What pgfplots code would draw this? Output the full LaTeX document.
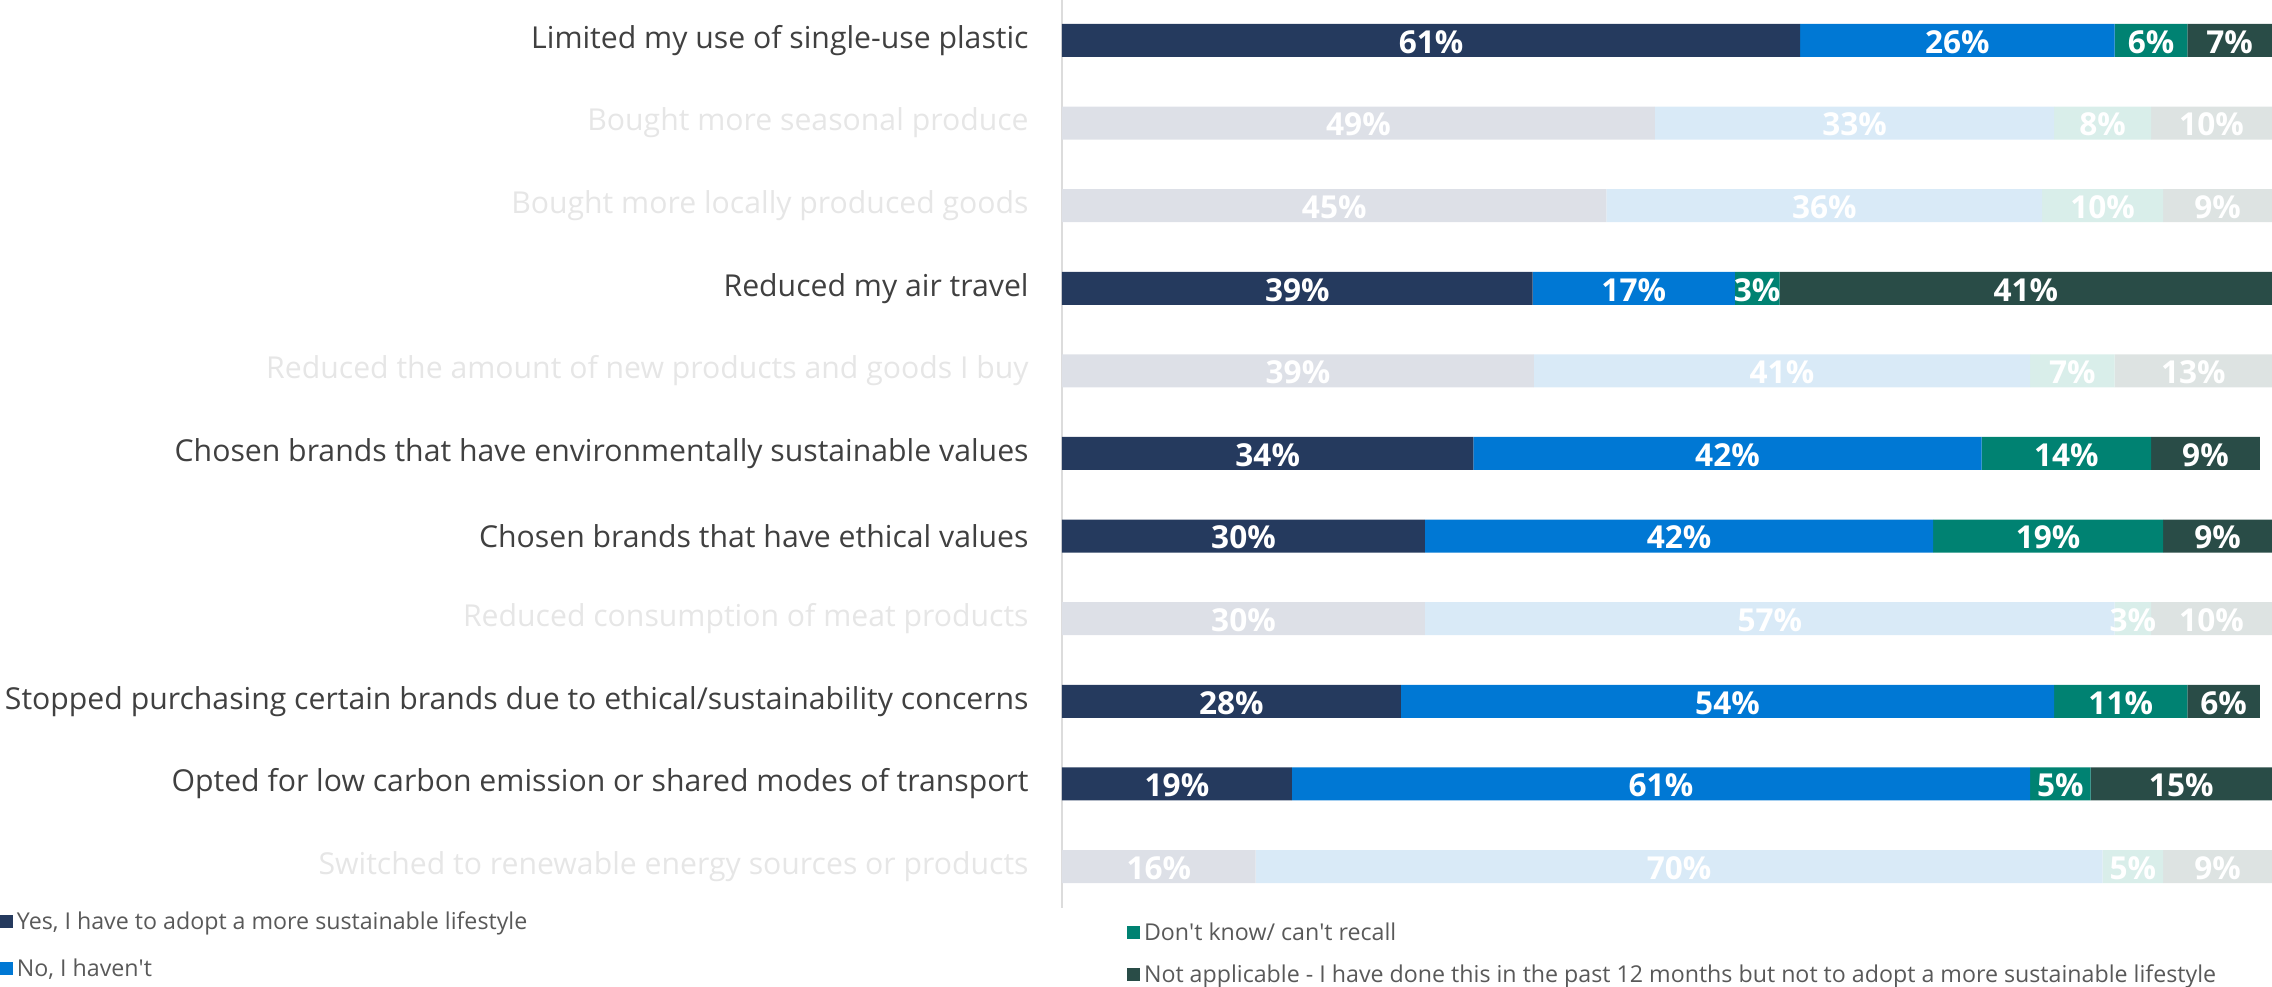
\documentclass[border=0pt]{standalone}
\usepackage{fontspec}
\setmainfont{Open Sans}
\usepackage{pgfplots}
\pgfplotsset{compat=1.18}
\definecolor{cyes}{RGB}{37,58,94}
\definecolor{cno}{RGB}{0,120,212}
\definecolor{cdk}{RGB}{0,130,114}
\definecolor{cna}{RGB}{41,76,71}
\definecolor{fyes}{RGB}{221,224,231}
\definecolor{fno}{RGB}{217,234,247}
\definecolor{fdk}{RGB}{217,238,234}
\definecolor{fna}{RGB}{221,227,226}
\definecolor{darktext}{RGB}{64,64,64}
\definecolor{fadetext}{RGB}{230,230,230}
\definecolor{legtext}{RGB}{89,89,89}
\definecolor{linegray}{RGB}{220,220,220}
\begin{document}
\begin{tikzpicture}
\useasboundingbox (0,0) rectangle (1136pt,493pt);
\begin{axis}[
  at={(531pt,39.1pt)}, anchor=south west,
  scale only axis, width=605pt, height=453.9pt,
  xbar stacked, bar width=16.5pt,
  xmin=0, xmax=100, ymin=0.5, ymax=11.49,
  axis x line=none, axis y line*=left,
  y axis line style={draw=linegray, line width=1pt},
  xtick=\empty,
  ytick={1,2,3,4,5,6,7,8,9,10,11},
  yticklabels={
    {\textcolor{fadetext}{Switched to renewable energy sources or products}},
    {Opted for low carbon emission or shared modes of transport},
    {Stopped purchasing certain brands due to ethical/sustainability concerns},
    {\textcolor{fadetext}{Reduced consumption of meat products}},
    {Chosen brands that have ethical values},
    {Chosen brands that have environmentally sustainable values},
    {\textcolor{fadetext}{Reduced the amount of new products and goods I buy}},
    {Reduced my air travel},
    {\textcolor{fadetext}{Bought more locally produced goods}},
    {\textcolor{fadetext}{Bought more seasonal produce}},
    {Limited my use of single-use plastic}},
  major tick length=0pt,
  yticklabel style={font=\fontsize{15.1}{18}\selectfont, text=darktext, anchor=east, inner sep=0pt, xshift=-16.5pt},
  legend image code/.code={\fill[#1] (0pt,-3.25pt) rectangle (6.5pt,3.25pt); \path (8.5pt,0pt);},
  legend cell align=left,
  legend style={at={(-0.87769,-0.00573)}, anchor=north west, draw=none, fill=none,
    inner sep=0pt, outer sep=0pt, row sep=15.2pt, column sep=0pt,
    font=\fontsize{11.6}{14}\selectfont, text=legtext,
    nodes={inner sep=0pt, text height=8.3pt, text depth=0pt}},
]
\addplot[fill=cyes, draw=none, forget plot] coordinates {(61,11) (0,10) (0,9) (38.9,8) (0,7) (34,6) (30,5) (0,4) (28,3) (19,2) (0,1)};
\addplot[fill=fyes, draw=none, forget plot] coordinates {(0,11) (49,10) (45,9) (0,8) (39,7) (0,6) (0,5) (30,4) (0,3) (0,2) (16,1)};
\addplot[fill=cno, draw=none, forget plot] coordinates {(26,11) (0,10) (0,9) (16.7,8) (0,7) (42,6) (42,5) (0,4) (54,3) (61,2) (0,1)};
\addplot[fill=fno, draw=none, forget plot] coordinates {(0,11) (33,10) (36,9) (0,8) (41,7) (0,6) (0,5) (57,4) (0,3) (0,2) (70,1)};
\addplot[fill=cdk, draw=none, forget plot] coordinates {(6,11) (0,10) (0,9) (3.7,8) (0,7) (14,6) (19,5) (0,4) (11,3) (5,2) (0,1)};
\addplot[fill=fdk, draw=none, forget plot] coordinates {(0,11) (8,10) (10,9) (0,8) (7,7) (0,6) (0,5) (3,4) (0,3) (0,2) (5,1)};
\addplot[fill=cna, draw=none, forget plot] coordinates {(7,11) (0,10) (0,9) (40.7,8) (0,7) (9,6) (9,5) (0,4) (6,3) (15,2) (0,1)};
\addplot[fill=fna, draw=none, forget plot] coordinates {(0,11) (10,10) (9,9) (0,8) (13,7) (0,6) (0,5) (10,4) (0,3) (0,2) (9,1)};
\addlegendimage{fill=cyes, draw=none}
\addlegendentry{Yes, I have to adopt a more sustainable lifestyle}
\addlegendimage{fill=cno, draw=none}
\addlegendentry{No, I haven\textquotesingle t}
\end{axis}
\begin{axis}[
  at={(531pt,39.1pt)}, anchor=south west,
  scale only axis, width=605pt, height=453.9pt,
  xmin=0, xmax=100, ymin=0.5, ymax=11.49,
  hide axis,
  legend image code/.code={\fill[#1] (0pt,-3.25pt) rectangle (6.5pt,3.25pt); \path (8.5pt,0pt);},
  legend cell align=left,
  legend style={at={(0.05372,-0.01785)}, anchor=north west, draw=none, fill=none,
    inner sep=0pt, outer sep=0pt, row sep=12.7pt, column sep=0pt,
    font=\fontsize{11.6}{14}\selectfont, text=legtext,
    nodes={inner sep=0pt, text height=8.3pt, text depth=0pt}},
]
\addplot[only marks, mark=none, forget plot, point meta=explicit symbolic,
  nodes near coords, nodes near coords style={font=\fontsize{15.8}{18}\selectfont\bfseries, text=white, anchor=center, yshift=-0.8pt}]
coordinates {
(30.5,11)[61\%] (74,11)[26\%] (90,11)[6\%] (96.5,11)[7\%]
(24.5,10)[49\%] (65.5,10)[33\%] (86,10)[8\%] (95,10)[10\%]
(22.5,9)[45\%] (63,9)[36\%] (86,9)[10\%] (95.5,9)[9\%]
(19.45,8)[39\%] (47.25,8)[17\%] (57.45,8)[3\%] (79.65,8)[41\%]
(19.5,7)[39\%] (59.5,7)[41\%] (83.5,7)[7\%] (93.5,7)[13\%]
(17,6)[34\%] (55,6)[42\%] (83,6)[14\%] (94.5,6)[9\%]
(15,5)[30\%] (51,5)[42\%] (81.5,5)[19\%] (95.5,5)[9\%]
(15,4)[30\%] (58.5,4)[57\%] (88.5,4)[3\%] (95,4)[10\%]
(14,3)[28\%] (55,3)[54\%] (87.5,3)[11\%] (96,3)[6\%]
(9.5,2)[19\%] (49.5,2)[61\%] (82.5,2)[5\%] (92.5,2)[15\%]
(8,1)[16\%] (51,1)[70\%] (88.5,1)[5\%] (95.5,1)[9\%]
};
\addlegendimage{fill=cdk, draw=none}
\addlegendentry{Don\textquotesingle t know/ can\textquotesingle t recall}
\addlegendimage{fill=cna, draw=none}
\addlegendentry{Not applicable - I have done this in the past 12 months but not to adopt a more sustainable lifestyle}
\end{axis}
\end{tikzpicture}
\end{document}
